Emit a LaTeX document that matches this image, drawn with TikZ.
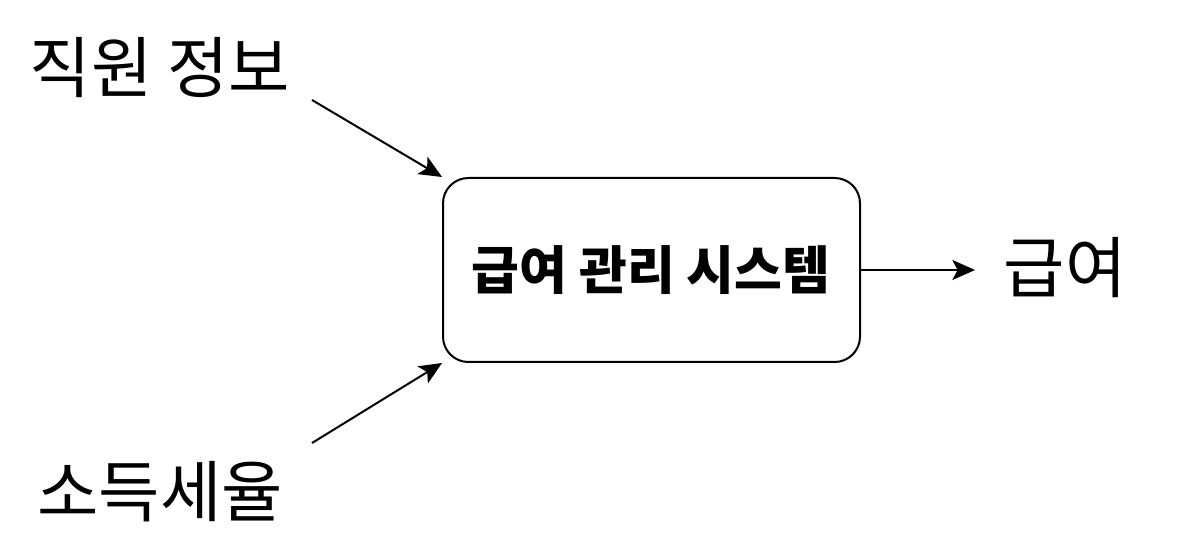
\documentclass[tikz,border=0pt]{standalone}
\usepackage{fontspec}
\setmainfont{Noto Sans CJK KR}
\usetikzlibrary{arrows.meta}
\tikzset{
  sysbox/.style={draw, line width=1.5pt, rounded corners=19pt, minimum width=312.75pt, minimum height=138pt, inner sep=0pt},
  lbl/.style={font=\fontsize{50}{55}\selectfont, inner sep=0pt},
  flow/.style={line width=1.5pt, -{Stealth[length=17pt,width=15pt,inset=4pt]}}
}
\begin{document}
\begin{tikzpicture}[x=0.75pt,y=-0.75pt]
\useasboundingbox (0,0) rectangle (1177,548);
\node[sysbox] (sys) at (651.5,270) {};
\node[font=\fontsize{39}{44}\selectfont\bfseries] (title) at (651,270) {급여 관리 시스템};
\node[lbl] (emp) at (160,68) {직원 정보};
\node[lbl] (tax) at (160,492) {소득세율};
\node[lbl] (pay) at (1065,268) {급여};
\coordinate (e1) at (312,100);
\coordinate (t1) at (312,443);
\coordinate (p1) at (975,270);
\draw[flow] (e1) -- (sys.north west);
\draw[flow] (t1) -- (sys.south west);
\draw[flow] (sys.east) -- (p1);
\end{tikzpicture}
\end{document}
